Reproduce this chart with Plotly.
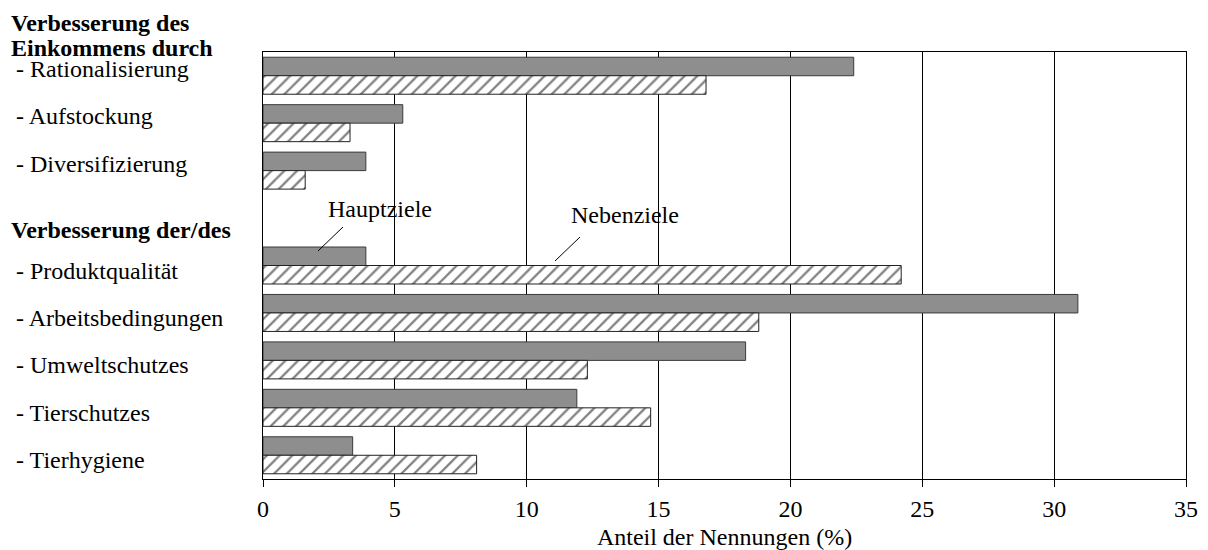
import plotly.graph_objects as go

# ---- data ----
categories = ["- Rationalisierung", "- Aufstockung", "- Diversifizierung",
              "- Produktqualität", "- Arbeitsbedingungen", "- Umweltschutzes",
              "- Tierschutzes", "- Tierhygiene"]
spacer = " "
hauptziele = [22.4, 5.3, 3.9, 3.9, 30.9, 18.3, 11.9, 3.4]
nebenziele = [16.8, 3.3, 1.6, 24.2, 18.8, 12.3, 14.7, 8.1]
group_income = categories[:3]
group_other = categories[3:]
header_income = ["Verbesserung des", "Einkommens durch"]
header_other = "Verbesserung der/des"
series_names = ["Hauptziele", "Nebenziele"]
x_ticks = [0, 5, 10, 15, 20, 25, 30, 35]
x_title = "Anteil der Nennungen (%)"

FONT = "Liberation Serif, Times New Roman, serif"
category_order = group_income + [spacer] + group_other

fig = go.Figure()
fig.add_trace(go.Bar(
    y=categories, x=hauptziele, orientation="h", name=series_names[0],
    marker=dict(color="#8e8e8e", line=dict(color="#3a3a3a", width=1)),
))
fig.add_trace(go.Bar(
    y=categories, x=nebenziele, orientation="h", name=series_names[1],
    marker=dict(color="white", line=dict(color="#222222", width=1),
                pattern=dict(shape="/", fgcolor="black", size=9, solidity=0.25)),
))

# plot area geometry (pixels) used for text placement
L, R, T, B = 263, 22, 52, 71
W, H = 1208, 550
pw, ph = W - L - R, H - T - B


def px_x(px):
    return (px - L) / pw


def px_y(py):
    return (H - B - py) / ph


ann = []
for c in categories:
    shift = 7 if c in group_income else -5
    ann.append(dict(text=c, xref="paper", yref="y", x=px_x(14), y=c,
                    xanchor="left", yanchor="middle", yshift=shift,
                    showarrow=False, font=dict(size=24, family=FONT)))
for line, py in zip(header_income, [23, 48]):
    ann.append(dict(text="<b>%s</b>" % line, xref="paper", yref="paper",
                    x=px_x(9), y=px_y(py), xanchor="left", yanchor="middle",
                    showarrow=False, font=dict(size=24, family=FONT)))
ann.append(dict(text="<b>%s</b>" % header_other, xref="paper", yref="paper",
                x=px_x(9), y=px_y(230), xanchor="left", yanchor="middle",
                showarrow=False, font=dict(size=24, family=FONT)))
ann.append(dict(text=series_names[0], xref="paper", yref="paper",
                x=px_x(380), y=px_y(209), xanchor="center", yanchor="middle",
                showarrow=False, font=dict(size=24, family=FONT)))
ann.append(dict(text=series_names[1], xref="paper", yref="paper",
                x=px_x(625), y=px_y(215), xanchor="center", yanchor="middle",
                showarrow=False, font=dict(size=24, family=FONT)))

shapes = [
    dict(type="line", xref="paper", yref="paper", x0=px_x(343), y0=px_y(227),
         x1=px_x(318), y1=px_y(251), line=dict(color="black", width=1)),
    dict(type="line", xref="paper", yref="paper", x0=px_x(580), y0=px_y(237),
         x1=px_x(555), y1=px_y(261), line=dict(color="black", width=1)),
]

fig.update_layout(
    width=W, height=H,
    margin=dict(l=L, r=R, t=T, b=B, pad=0, autoexpand=False),
    paper_bgcolor="white", plot_bgcolor="white",
    font=dict(family=FONT, size=24, color="black"),
    barmode="group", bargap=0.22, bargroupgap=0,
    showlegend=False,
    annotations=ann, shapes=shapes,
    xaxis=dict(range=[0, 35], tickvals=x_ticks, showgrid=True, automargin=False,
               gridcolor="black", gridwidth=1, zeroline=False,
               showline=True, mirror=True, linecolor="black", linewidth=1,
               ticks="outside", ticklen=7, tickcolor="black", ticklabelstandoff=1,
               tickfont=dict(size=24, family=FONT),
               title=dict(text=x_title, font=dict(size=24, family=FONT), standoff=9)),
    yaxis=dict(type="category", categoryorder="array", categoryarray=category_order,
               range=[len(category_order) - 0.5, -0.5], automargin=False,
               showticklabels=False, showgrid=False, zeroline=False,
               showline=True, mirror=True, linecolor="black", linewidth=1,
               ticks=""),
)

fig.write_html("out.html", config={"displayModeBar": False},
               post_script="document.body.style.margin='0px';document.body.style.overflow='hidden';")
